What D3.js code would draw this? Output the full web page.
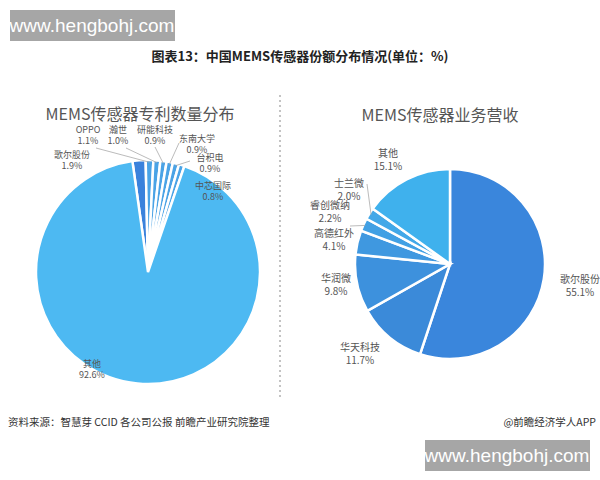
<!DOCTYPE html>
<html><head><meta charset="utf-8">
<script src="https://cdn.jsdelivr.net/npm/d3@7"></script>
<style>body{margin:0;background:#fff}svg{display:block;font-family:"Noto Sans CJK SC","Noto Sans",sans-serif}</style>
</head><body><svg id="c" width="600" height="480"></svg>
<script>
const leftNames=["歌尔股份","OPPO","瀚世","研能科技","东南大学","台积电","中芯国际","其他"];
const leftValues=[1.9,1.1,1.0,0.9,0.9,0.9,0.8,92.6];
const rightNames=["歌尔股份","华天科技","华润微","高德红外","睿创微纳","士兰微","其他"];
const rightValues=[55.1,11.7,9.8,4.1,2.2,2.0,15.1];

const svg=d3.select("#c");
function wm(x,y){svg.append("rect").attr("x",x).attr("y",y).attr("width",165).attr("height",31).attr("fill","#a6a6a6");
 svg.append("text").attr("x",x+82).attr("y",y+22).attr("text-anchor","middle").attr("fill","#fff").attr("font-size",19).attr("font-family","Liberation Sans, Arial").text("www.hengbohj.com");}
wm(10,10);wm(425,440);
svg.append("text").attr("x",300).attr("y",61).attr("text-anchor","middle").attr("font-size",13).attr("font-weight","bold").attr("fill","#222").text("图表13：中国MEMS传感器份额分布情况(单位：%)");
svg.append("line").attr("x1",280).attr("x2",280).attr("y1",95).attr("y2",400).attr("stroke","#888").attr("stroke-dasharray","2,3");
svg.append("text").attr("x",8).attr("y",426).attr("font-size",10.5).attr("fill","#333").text("资料来源：智慧芽 CCID 各公司公报 前瞻产业研究院整理");
svg.append("text").attr("x",596).attr("y",426).attr("text-anchor","end").attr("font-size",10.5).attr("fill","#333").text("@前瞻经济学人APP");

svg.append("text").attr("x",140).attr("y",120).attr("text-anchor","middle").attr("font-size",16).attr("fill","#555").text("MEMS传感器专利数量分布");
svg.append("text").attr("x",440).attr("y",121).attr("text-anchor","middle").attr("font-size",16).attr("fill","#555").text("MEMS传感器业务营收");

function pie(names,vals,cx,cy,r,colors,labels,start,fs,gap){
 const g=svg.append("g").attr("transform",`translate(${cx},${cy})`);
 const arcs=d3.pie().sort(null).startAngle(start).endAngle(start+2*Math.PI)(vals);
 const arc=d3.arc().innerRadius(0).outerRadius(r);
 g.selectAll("path").data(arcs).join("path").attr("d",arc).attr("fill",(d,i)=>colors(i)).attr("stroke","#fff").attr("stroke-width",2.5);
 arcs.forEach((a,i)=>{const L=labels[i];
  const m=(a.startAngle+a.endAngle)/2;
  if(L.line){const p=[Math.sin(m)*r*0.98,-Math.cos(m)*r*0.98];
   g.append("polyline").attr("points",[p,[L.x+L.lx,L.y+L.ly]].map(q=>q.join(",")).join(" ")).attr("fill","none").attr("stroke","#aaa").attr("stroke-width",0.8);}
  const t=g.append("text").attr("text-anchor","middle").attr("font-size",fs).attr("fill","#555");
  t.append("tspan").attr("x",L.x).attr("y",L.y-gap).text(names[i]);
  t.append("tspan").attr("x",L.x).attr("y",L.y).text(vals[i].toFixed(1)+"%");
 });
}
const lc=i=>i==0?"#3a82dc":(i==7?"#4db9f2":"#4aa3e6");
pie(leftNames,leftValues,148,272,112,lc,[
 {x:-76,y:-103},{x:-60,y:-128,line:1,lx:8,ly:4},{x:-30,y:-128,line:1,lx:8,ly:4},{x:7,y:-128,line:1,lx:0,ly:3},{x:49,y:-119,line:1,lx:-18,ly:-10},{x:62,y:-100,line:1,lx:-20,ly:-11},{x:65,y:-72},{x:-56,y:106}],-0.14,9,11);
const rcArr=["#3a86dc","#3b8ad9","#3d91dd","#3f98e0","#41a0e4","#42a8e8","#3fb1ed"];
pie(rightNames,rightValues,450,264,95,i=>rcArr[i],[
 {x:130,y:32},{x:-90,y:100},{x:-114,y:31},{x:-116,y:-14},{x:-120,y:-42,line:1,lx:20,ly:4},{x:-101,y:-64,line:1,lx:18,ly:-16},{x:-62,y:-94}],0,10,13);
</script></body></html>
